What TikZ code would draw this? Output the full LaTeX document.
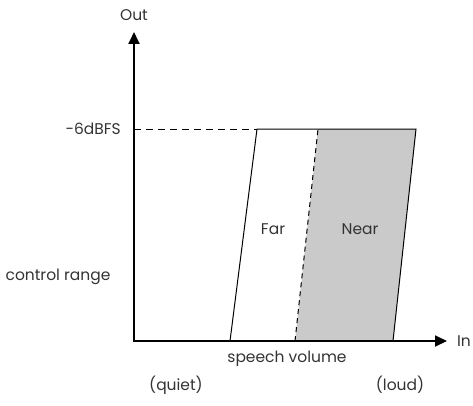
\documentclass[tikz,border=0pt]{standalone}
\usepackage{fontspec}
\setmainfont{Poppins}
\usetikzlibrary{arrows.meta}
\definecolor{neargray}{HTML}{C9CAC9}
\tikzset{lbl/.style={font=\fontsize{15.5}{18}\selectfont, text=black!80, inner sep=1pt}}

\begin{document}
\begin{tikzpicture}[x=1pt, y=1pt]
        \useasboundingbox (0,0) rectangle (473,405);
        % corner points of the band
        \coordinate (o) at (134,64);
        \coordinate (ytop) at (134,373);
        \coordinate (xend) at (447,64);
        \coordinate (farbl) at (230,64);
        \coordinate (fartl) at (257,276);
        \coordinate (midb) at (295,64);
        \coordinate (midt) at (318,276);
        \coordinate (nearbr) at (393,64);
        \coordinate (neartr) at (416,276);

        \fill[neargray] (midb) -- (midt) -- (neartr) -- (nearbr) -- cycle;
        \draw[line width=1pt] (farbl) -- (fartl) -- (neartr) -- (nearbr);
        \draw[line width=1pt, dash pattern=on 5pt off 4pt] (midb) -- (midt);
        \draw[line width=1pt, dash pattern=on 7pt off 5pt] (o |- fartl) -- (fartl);

        \draw[line width=1.8pt, -{Triangle[length=12pt, width=11pt]}] (o) -- (ytop);
        \draw[line width=1.8pt, -{Triangle[length=12pt, width=11pt]}] ([xshift=-0.9pt]o) -- (xend);

        \node[lbl] (out) at (134,390) {Out};
        \node[lbl] (in) at (464,64) {In};
        \node[lbl, anchor=east] (level) at (122,276) {-6dBFS};
        \node[lbl] (ctrl) at (58,128) {control range};
        \node[lbl] (speech) at (287,46) {speech volume};
        \node[lbl] (quiet) at (176,20) {(quiet)};
        \node[lbl] (loud) at (400,20) {(loud)};
        \node[lbl] (far) at (273,176) {Far};
        \node[lbl] (near) at (360,176) {Near};
    \end{tikzpicture}
\end{document}
